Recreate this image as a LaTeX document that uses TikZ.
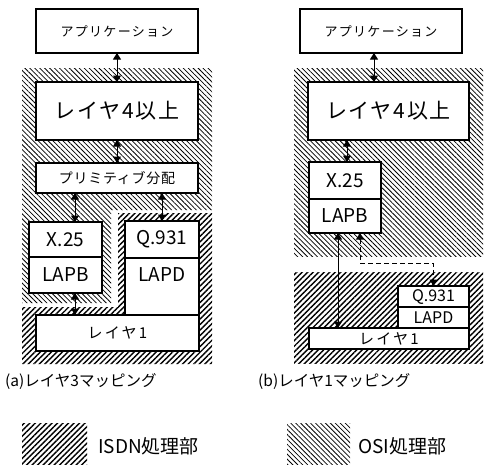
\documentclass[tikz,border=0pt]{standalone}
\usepackage{fontspec}
\setmainfont{Noto Sans CJK JP}
\usetikzlibrary{patterns.meta,arrows.meta}
\tikzset{
  box/.style={draw, line width=1.2pt, fill=white, inner sep=0pt, outer sep=0pt},
  isdn/.style={pattern={Lines[angle=45,distance=3.9pt,line width=1.4pt]}},
  osi/.style={pattern={Lines[angle=-45,distance=3.5pt,line width=0.8pt]}},
  dar/.style={{Triangle[length=6.5pt,width=8pt]}-{Triangle[length=6.5pt,width=8pt]}, line width=1pt},
  sp/.style 2 args={font=\fontsize{#1}{#1}\selectfont\addfontfeature{LetterSpace=#2}},
  txt/.style={inner sep=0pt}
}
\begin{document}
\begin{tikzpicture}[x=1pt,y=-1pt]
\useasboundingbox (0,0) rectangle (493,464);
% ---------- panel (a) regions
\fill[osi] (22,68) -- (212,68) -- (212,210) -- (111,210) -- (111,303) -- (22,303) -- cycle;
\fill[isdn] (118,213) -- (212,213) -- (212,364) -- (22,364) -- (22,307) -- (118,307) -- cycle;
% ---------- panel (a) boxes
\node[box, minimum width=162pt, minimum height=44pt, sp={13}{10}] (appA) at (117,31) {アプリケーション};
\node[box, minimum width=162pt, minimum height=58pt, sp={21}{8}] (l4A) at (117,111) {レイヤ4以上};
\node[box, minimum width=162pt, minimum height=30pt, sp={14}{5}] (primA) at (117,178) {プリミティブ分配};
\node[box, minimum width=73pt, minimum height=35pt, font=\fontsize{19}{19}\selectfont] (x25A) at (65.5,239.5) {X.25};
\node[box, minimum width=73pt, minimum height=36pt, font=\fontsize{19}{19}\selectfont] (lapbA) at (65.5,275) {LAPB};
\node[box, minimum width=74pt, minimum height=37pt, font=\fontsize{19}{19}\selectfont] (q931A) at (162,239.5) {Q.931};
\node[box, minimum width=74pt, minimum height=57pt] (lapdA) at (162,286.5) {};
\node[txt, font=\fontsize{19}{19}\selectfont] (lapdAt) at (162,275) {LAPD};
\node[box, minimum width=163pt, minimum height=36pt, sp={15}{15}] (layer1A) at (117.5,333) {レイヤ1};
\coordinate (ax1) at (75,0);
\draw[dar] (appA.south) -- (l4A.north);
\draw[dar] (l4A.south) -- (primA.north);
\draw[dar] (primA.south -| ax1) -- (x25A.north -| ax1);
\draw[dar] (primA.south -| q931A.north) -- (q931A.north);
\draw[dar] (lapbA.south -| ax1) -- (layer1A.north -| ax1);
% ---------- panel (b) regions
\fill[osi] (294,68) rectangle (483,256);
\fill[isdn] (294,272) rectangle (483,363);
% ---------- panel (b) boxes
\node[box, minimum width=162pt, minimum height=44pt, sp={13}{10}] (appB) at (381,31) {アプリケーション};
\node[box, minimum width=161pt, minimum height=58pt, sp={21}{8}] (l4B) at (388.5,111) {レイヤ4以上};
\node[box, minimum width=72pt, minimum height=37pt, font=\fontsize{19}{19}\selectfont] (x25B) at (345,180.5) {X.25};
\node[box, minimum width=72pt, minimum height=34pt, font=\fontsize{19}{19}\selectfont] (lapbB) at (345,216) {LAPB};
\node[box, minimum width=71pt, minimum height=21pt, font=\fontsize{16}{16}\selectfont] (q931B) at (433.5,296.5) {Q.931};
\node[box, minimum width=71pt, minimum height=21pt, font=\fontsize{16}{16}\selectfont] (lapdB) at (433.5,317.5) {LAPD};
\node[box, minimum width=160pt, minimum height=21pt, sp={15}{15}] (layer1B) at (389,338.5) {レイヤ1};
\coordinate (bx1) at (374,0);
\coordinate (bx2) at (347,0);
\coordinate (bx3) at (338,0);
\coordinate (dx1) at (360,0);
\coordinate (dy) at (0,263);
\draw[dar] (appB.south -| bx1) -- (l4B.north -| bx1);
\draw[dar] (l4B.south -| bx2) -- (x25B.north -| bx2);
\draw[dar] (lapbB.south -| bx3) -- (layer1B.north -| bx3);
\draw[dar, dash pattern=on 5pt off 3pt] (lapbB.south -| dx1) -- (dx1 |- dy) -| (q931B.north);
% ---------- captions
\node[txt, sp={15.5}{0}, anchor=west] (capA) at (5,382) {(a)レイヤ3マッピング};
\node[txt, sp={15.5}{0}, anchor=west] (capB) at (258,382) {(b)レイヤ1マッピング};
% ---------- legend
\fill[isdn] (22,423) rectangle (87,464);
\node[txt, font=\fontsize{19}{19}\selectfont, anchor=west] (legAt) at (98,446) {ISDN処理部};
\fill[osi] (287,423) rectangle (350,464);
\node[txt, font=\fontsize{19}{19}\selectfont, anchor=west] (legBt) at (358,446) {OSI処理部};
\end{tikzpicture}
\end{document}
